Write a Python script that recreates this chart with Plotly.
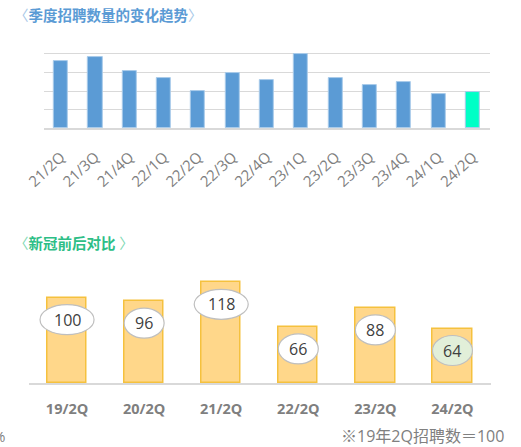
import plotly.graph_objects as go

# ---- data ----
quarters = ["21/2Q", "21/3Q", "21/4Q", "22/1Q", "22/2Q", "22/3Q", "22/4Q",
            "23/1Q", "23/2Q", "23/3Q", "23/4Q", "24/1Q", "24/2Q"]
quarter_values = [3.61, 3.84, 3.09, 2.70, 2.02, 2.95, 2.58, 3.98, 2.72, 2.31, 2.50, 1.86, 1.95]

compare_labels = ["19/2Q", "20/2Q", "21/2Q", "22/2Q", "23/2Q", "24/2Q"]
compare_values = [100, 96, 118, 66, 88, 64]

title_top = "季度招聘数量的变化趋势"
title_bottom = "新冠前后对比"
footnote = "※19年2Q招聘数＝100"

FONT = "Open Sans, Noto Sans CJK SC, sans-serif"
W, H = 521, 447

def px_x(p):
    return p / W

def px_y(p):
    return 1 - p / H

top_colors = ["#5B9BD5"] * (len(quarters) - 1) + ["#00FFC6"]

fig = go.Figure()
fig.add_trace(go.Bar(
    x=quarters, y=quarter_values, xaxis="x", yaxis="y",
    marker=dict(color=top_colors, line=dict(color="#A9CBEA", width=1)),
    width=0.41, hoverinfo="skip",
))
fig.add_trace(go.Bar(
    x=compare_labels, y=compare_values, xaxis="x2", yaxis="y2",
    marker=dict(color="#FFD78A", line=dict(color="#F5C13E", width=1.5)),
    width=0.51, hoverinfo="skip",
))

# ellipse labels
shapes = []
annotations = []
for i, (lab, v) in enumerate(zip(compare_labels, compare_values)):
    w = 27 if v >= 100 else 20
    fill = "#E2EFD9" if i == len(compare_labels) - 1 else "white"
    shapes.append(dict(
        type="circle", xref="x2", yref="y2",
        xsizemode="pixel", ysizemode="pixel",
        xanchor=lab, yanchor=v,
        x0=-w, x1=w, y0=-37, y1=-7,
        fillcolor=fill, line=dict(color="#BFBFBF", width=1.2), layer="above",
    ))
    annotations.append(dict(
        x=lab, y=v, xref="x2", yref="y2", text=str(v), showarrow=False,
        yshift=-22, font=dict(family=FONT, size=16, color="#404040"),
    ))

annotations += [
    dict(x=px_x(12), y=px_y(16), xref="paper", yref="paper", xanchor="left", yanchor="middle",
         showarrow=False,
         text=f"<span style='color:#A8C8E8'>〈</span><b>{title_top}</b><span style='color:#A8C8E8'>〉</span>",
         font=dict(family=FONT, size=14.5, color="#5B9BD5")),
    dict(x=px_x(12), y=px_y(243), xref="paper", yref="paper", xanchor="left", yanchor="middle",
         showarrow=False,
         text=f"<span style='color:#7FD9B4'>〈</span><b>{title_bottom}</b><span style='color:#7FD9B4'> 〉</span>",
         font=dict(family=FONT, size=14.5, color="#2DBE86")),
    dict(x=px_x(506), y=px_y(435.5), xref="paper", yref="paper", xanchor="right", yanchor="middle",
         showarrow=False, text=footnote,
         font=dict(family=FONT, size=16, color="#808080")),
    dict(x=px_x(7), y=px_y(436), xref="paper", yref="paper", xanchor="right", yanchor="middle",
         showarrow=False, text="%",
         font=dict(family=FONT, size=15, color="#808080")),
]

fig.update_layout(
    width=W, height=H,
    margin=dict(l=0, r=0, t=0, b=0, autoexpand=False),
    paper_bgcolor="white", plot_bgcolor="white",
    showlegend=False, bargap=0,
    font=dict(family=FONT),
    xaxis=dict(domain=[px_x(43.8), px_x(490)], anchor="y", type="category",
               tickangle=-43, tickfont=dict(size=15, color="#7F7F7F", family=FONT),
               showgrid=False, showline=False, ticks="", ticklabelstandoff=16,
               automargin=False, fixedrange=True),
    yaxis=dict(domain=[px_y(128.5), px_y(128.5 - 18.7 * 5.05)], anchor="x",
               range=[0, 5.05], dtick=1, showticklabels=False,
               showgrid=True, gridcolor="#D9D9D9", gridwidth=1,
               zeroline=True, zerolinecolor="#D9D9D9", zerolinewidth=1.5,
               automargin=False, fixedrange=True),
    xaxis2=dict(domain=[px_x(28.5), px_x(491)], anchor="y2", type="category",
                tickfont=dict(size=14.5, color="#7F7F7F", family=FONT),
                tickprefix="<b>", ticksuffix="</b>",
                showgrid=False, showline=True, linecolor="#D9D9D9", linewidth=1.5,
                ticks="", ticklabelstandoff=12, automargin=False, fixedrange=True),
    yaxis2=dict(domain=[px_y(383.3), px_y(383.3 - 0.856 * 130)], anchor="x2",
                range=[0, 130], showticklabels=False, showgrid=False,
                zeroline=False, automargin=False, fixedrange=True),
    shapes=shapes,
    annotations=annotations,
)

fig.write_html(
    "out.html",
    config={"displayModeBar": False},
    post_script="document.body.style.margin='0';document.body.style.overflow='hidden';",
)
